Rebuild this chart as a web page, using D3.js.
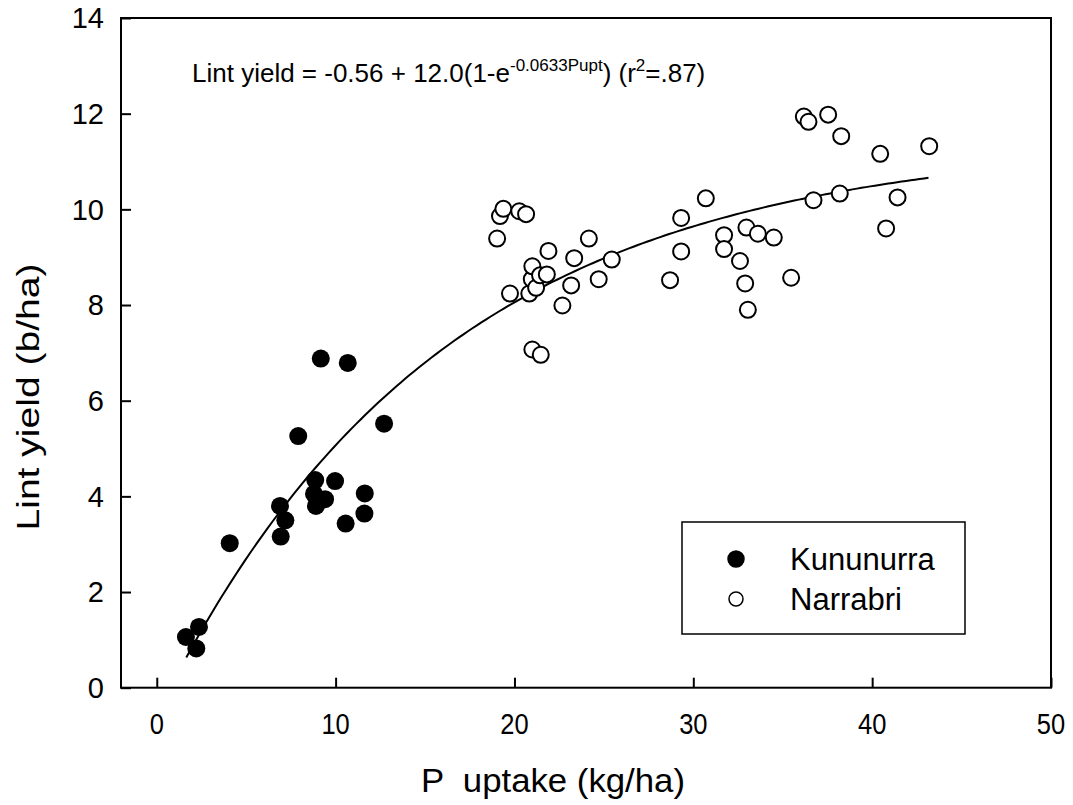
<!DOCTYPE html>
<html>
<head>
<meta charset="utf-8">
<script src="https://cdn.jsdelivr.net/npm/d3@7"></script>
<style>
  body { margin: 0; background: #fff; }
  text { font-family: "Liberation Sans", Arial, sans-serif; fill: #000; }
</style>
</head>
<body>
<svg id="chart" width="1073" height="805"></svg>
<script>
// Kununurra (filled)
var kunX = [1.63, 2.36, 2.21, 4.08, 6.89, 7.19, 6.93, 7.91, 9.17, 10.68, 8.86, 9.97, 8.79, 9.41, 8.90, 11.63, 11.61, 10.56, 12.71];
var kunY = [1.06, 1.27, 0.82, 3.02, 3.80, 3.50, 3.16, 5.26, 6.88, 6.79, 4.34, 4.32, 4.05, 3.94, 3.80, 4.06, 3.64, 3.43, 5.52];

// Narrabri (open)
var narX = [19.03, 19.19, 19.38, 20.27, 20.65, 19.75, 20.83, 20.97, 21.00, 21.21, 21.43, 21.81, 21.90, 21.00, 21.47,
            22.68, 23.17, 23.34, 24.16, 24.71, 25.44, 28.70, 29.32, 29.32, 30.70, 31.72, 31.72, 32.61, 32.90, 32.97,
            33.05, 33.61, 34.50, 35.47, 36.18, 36.44, 36.72, 37.54, 38.19, 38.27, 40.45, 40.78, 41.42, 43.19];
var narY = [9.39, 9.86, 10.01, 9.96, 9.90, 8.24, 8.24, 8.54, 8.81, 8.36, 8.62, 8.64, 9.13, 7.07, 6.96,
            7.99, 8.41, 8.98, 9.39, 8.54, 8.95, 8.52, 9.82, 9.12, 10.23, 9.46, 9.17, 8.92, 8.45, 9.62,
            7.90, 9.49, 9.41, 8.57, 11.94, 11.83, 10.19, 11.98, 10.33, 11.53, 11.16, 9.60, 10.25, 11.32];

// fitted model from the chart: y = a + b(1 - e^(-c x))
var fitA = -0.56, fitB = 12.0, fitC = 0.0633;
var fitRange = [1.65, 43.2];

var xTicks = [0, 10, 20, 30, 40, 50];
var yTicks = [0, 2, 4, 6, 8, 10, 12, 14];
var seriesNames = ["Kununurra", "Narrabri"];

var svg = d3.select("#chart");
var plotL = 121, plotR = 1051, plotT = 18, plotB = 687.7;

var x = d3.scaleLinear().domain([-2, 50]).range([plotL, plotR]);
var y = d3.scaleLinear().domain([0, 14]).range([plotB, plotT]);

// axes with inward ticks
var xAxis = svg.append("g")
    .attr("transform", "translate(0," + plotB + ")")
    .call(d3.axisTop(x).tickValues(xTicks).tickSize(10).tickFormat(""));
var yAxis = svg.append("g")
    .attr("transform", "translate(" + plotL + ",0)")
    .call(d3.axisRight(y).tickValues(yTicks).tickSize(10).tickFormat(""));
[xAxis, yAxis].forEach(function(g){
  g.select(".domain").remove();
  g.selectAll("line").attr("stroke", "#000").attr("stroke-width", 2);
});

// x tick labels are drawn a little narrow, as in the original
svg.append("g").selectAll("text")
  .data(xTicks).enter().append("text")
  .attr("transform", function(d){ return "translate(" + x(d) + ",734) scale(0.85,1)"; })
  .attr("text-anchor", "middle")
  .attr("font-size", 30)
  .text(function(d){ return d; });

svg.append("g").selectAll("text")
  .data(yTicks).enter().append("text")
  .attr("x", 104)
  .attr("y", function(d){ return y(d); })
  .attr("dy", "0.36em")
  .attr("text-anchor", "end")
  .attr("font-size", 29)
  .text(function(d){ return d; });

// frame
svg.append("rect")
  .attr("x", plotL).attr("y", plotT)
  .attr("width", plotR - plotL).attr("height", plotB - plotT)
  .attr("fill", "none").attr("stroke", "#000").attr("stroke-width", 2);

// fitted curve
var curve = d3.range(fitRange[0], fitRange[1] + 0.001, 0.25).map(function(p){
  return [p, fitA + fitB * (1 - Math.exp(-fitC * p))];
});
svg.append("path")
  .datum(curve)
  .attr("fill", "none")
  .attr("stroke", "#000")
  .attr("stroke-width", 2)
  .attr("d", d3.line().x(function(d){ return x(d[0]); }).y(function(d){ return y(d[1]); }));

// points
svg.append("g").selectAll("circle")
  .data(kunX).enter().append("circle")
  .attr("cx", function(d){ return x(d); })
  .attr("cy", function(d, i){ return y(kunY[i]); })
  .attr("r", 9)
  .attr("fill", "#000");

svg.append("g").selectAll("circle")
  .data(narX).enter().append("circle")
  .attr("cx", function(d){ return x(d); })
  .attr("cy", function(d, i){ return y(narY[i]); })
  .attr("r", 8)
  .attr("fill", "#fff")
  .attr("stroke", "#000")
  .attr("stroke-width", 2);

// equation
var eq = svg.append("text").attr("x", 192).attr("y", 82).attr("font-size", 26);
eq.append("tspan").text("Lint yield = -0.56 + 12.0(1-e");
eq.append("tspan").attr("font-size", 17).attr("dy", -11).text("-0.0633Pupt");
eq.append("tspan").attr("dy", 11).text(") (r");
eq.append("tspan").attr("font-size", 17).attr("dy", -11).text("2");
eq.append("tspan").attr("dy", 11).text("=.87)");

// legend
var lg = svg.append("g");
lg.append("rect")
  .attr("x", 682).attr("y", 522).attr("width", 283).attr("height", 112)
  .attr("fill", "#fff").attr("stroke", "#000").attr("stroke-width", 1.5);
lg.selectAll("circle").data(seriesNames).enter().append("circle")
  .attr("cx", 736)
  .attr("cy", function(d, i){ return 559 + i * 40; })
  .attr("r", function(d, i){ return i === 0 ? 8 : 7; })
  .attr("fill", function(d, i){ return i === 0 ? "#000" : "#fff"; })
  .attr("stroke", "#000")
  .attr("stroke-width", 1.5);
lg.selectAll("text").data(seriesNames).enter().append("text")
  .attr("x", 790)
  .attr("y", function(d, i){ return 559 + i * 40; })
  .attr("dy", "0.36em")
  .attr("font-size", 31)
  .text(function(d){ return d; });

// axis titles
svg.append("text")
  .attr("x", 553).attr("y", 792)
  .attr("text-anchor", "middle")
  .attr("font-size", 34)
  .attr("textLength", 264)
  .attr("lengthAdjust", "spacingAndGlyphs")
  .attr("xml:space", "preserve")
  .text("P  uptake (kg/ha)");

svg.append("text")
  .attr("transform", "translate(39,397) rotate(-90)")
  .attr("text-anchor", "middle")
  .attr("font-size", 31)
  .attr("textLength", 267)
  .attr("lengthAdjust", "spacingAndGlyphs")
  .text("Lint yield (b/ha)");
</script>
</body>
</html>
